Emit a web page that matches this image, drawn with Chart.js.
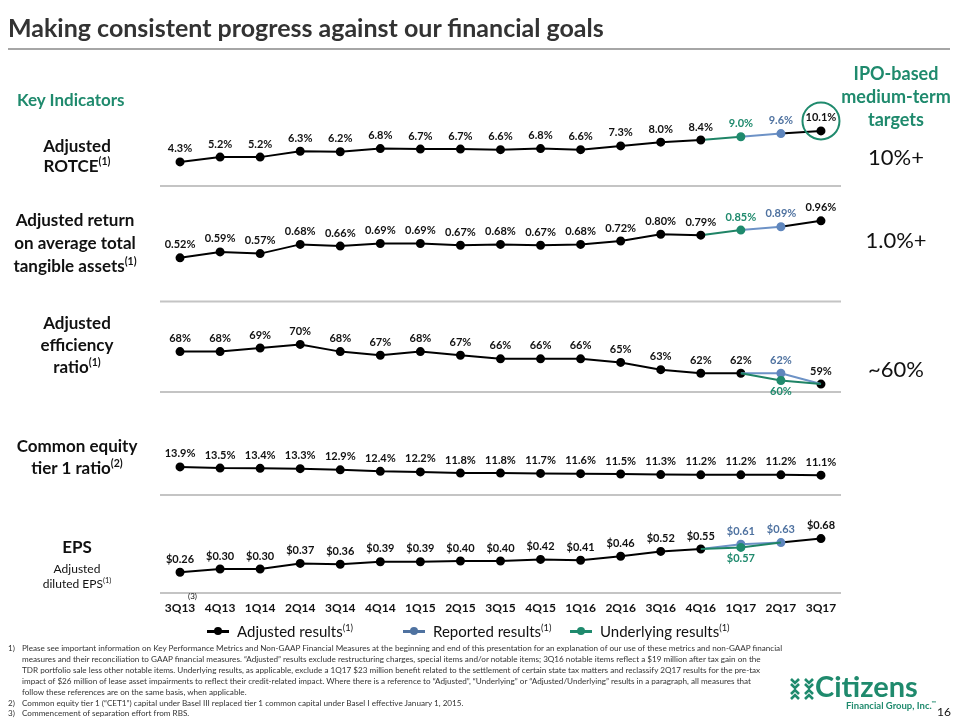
<!DOCTYPE html>
<html>
<head>
<meta charset="utf-8">
<script src="https://cdn.jsdelivr.net/npm/chart.js@4.4.0/dist/chart.umd.min.js"></script>
<style>
  body { margin:0; width:960px; height:720px; position:relative; background:#fff; font-family:Lato, sans-serif; overflow:hidden; color:#111; }
  #chart { position:absolute; left:0; top:0; }
  .abs { position:absolute; white-space:nowrap; }
  .title { left:8px; top:12px; font-size:25px; font-weight:bold; color:#333; }
  .rule { left:8px; top:48px; width:942px; height:2px; background:#a6a6a6; }
  .green { color:#1f8a6d; }
  .rowlabel { left:2px; width:150px; text-align:center; font-weight:bold; font-size:17px; }
  sup { font-size:62%; line-height:0; vertical-align:super; }
  .target { left:836px; width:120px; text-align:center; font-size:22px; font-weight:normal; }
  .legend { top:621px; font-size:15px; line-height:20px; }
  .mark { display:inline-block; position:relative; width:22px; height:20px; vertical-align:top; margin-right:8px; }
  .mark i { position:absolute; left:0; top:9px; width:22px; height:2.5px; }
  .mark b { position:absolute; left:7px; top:6px; width:8px; height:8px; border-radius:50%; }
  .notes { left:8px; top:643px; font-size:8.15px; line-height:10.9px; color:#333; }
  .notes div span { display:inline-block; width:14px; }
  .notes .ind { padding-left:14px; }
</style>
</head>
<body>
<canvas id="chart" width="960" height="720"></canvas>

<div class="abs title">Making consistent progress against our financial goals</div>
<div class="abs rule"></div>

<div class="abs green" style="left:17px; top:89px; font-size:17px; font-weight:bold; line-height:22px;">Key Indicators</div>
<div class="abs rowlabel" style="top:136px; line-height:20px;">Adjusted<br>ROTCE<sup>(1)</sup></div>
<div class="abs rowlabel" style="top:208px; line-height:23px; left:0;">Adjusted return<br>on average total<br>tangible assets<sup>(1)</sup></div>
<div class="abs rowlabel" style="top:312px; line-height:22px;">Adjusted<br>efficiency<br>ratio<sup>(1)</sup></div>
<div class="abs rowlabel" style="top:435px; line-height:22px;">Common equity<br>tier 1 ratio<sup>(2)</sup></div>
<div class="abs rowlabel" style="top:536px; line-height:22px;">EPS
  <div style="font-size:12px; font-weight:normal; line-height:15px; margin-top:3px;">Adjusted<br>diluted EPS<sup>(1)</sup></div></div>

<div class="abs green" style="left:836px; width:120px; text-align:center; top:62px; font-size:18px; font-weight:bold; line-height:23px;">IPO-based<br>medium-term<br>targets</div>
<div class="abs target" style="top:143px;">10%+</div>
<div class="abs target" style="top:226px;">1.0%+</div>
<div class="abs target" style="top:355px;">~60%</div>

<div class="abs" style="left:188px; top:591px; font-size:8px;">(3)</div>

<div class="abs legend" style="left:207px;"><span class="mark"><i style="background:#000"></i><b style="background:#000"></b></span>Adjusted results<sup>(1)</sup></div>
<div class="abs legend" style="left:403px;"><span class="mark"><i style="background:#4f72a0"></i><b style="background:#4f72a0"></b></span>Reported results<sup>(1)</sup></div>
<div class="abs legend" style="left:570px;"><span class="mark"><i style="background:#1f8a6d"></i><b style="background:#1f8a6d"></b></span>Underlying results<sup>(1)</sup></div>

<div class="abs notes">
  <div><span>1)</span>Please see important information on Key Performance Metrics and Non-GAAP Financial Measures at the beginning and end of this presentation for an explanation of our use of these metrics and non-GAAP financial</div>
  <div class="ind">measures and their reconciliation to GAAP financial measures. “Adjusted” results exclude restructuring charges, special items and/or notable items; 3Q16 notable items reflect a $19 million after tax gain on the</div>
  <div class="ind">TDR portfolio sale less other notable items. Underlying results, as applicable, exclude a 1Q17 $23 million benefit related to the settlement of certain state tax matters and reclassify 2Q17 results for the pre-tax</div>
  <div class="ind">impact of $26 million of lease asset impairments to reflect their credit-related impact. Where there is a reference to “Adjusted”, “Underlying” or “Adjusted/Underlying” results in a paragraph, all measures that</div>
  <div class="ind">follow these references are on the same basis, when applicable.</div>
  <div><span>2)</span>Common equity tier 1 (“CET1”) capital under Basel III replaced tier 1 common capital under Basel I effective January 1, 2015.</div>
  <div><span>3)</span>Commencement of separation effort from RBS.</div>
</div>

<svg class="abs" style="left:789px; top:676px;" width="26" height="26" viewBox="0 0 26 26">
  <g fill="none" stroke="#1f8a6d" stroke-width="2.6">
    <polyline points="2,3 6,7 10,3"/><polyline points="2,8 6,12 10,8"/>
    <polyline points="16,3 20,7 24,3"/><polyline points="16,8 20,12 24,8"/>
    <polyline points="2,18 6,14 10,18"/><polyline points="2,23 6,19 10,23"/>
    <polyline points="16,18 20,14 24,18"/><polyline points="16,23 20,19 24,23"/>
  </g>
</svg>
<div class="abs green" style="left:815px; top:669px; font-size:29px; font-weight:bold; line-height:34px;">Citizens</div>
<div class="abs green" style="left:846px; top:700px; font-size:9.5px; font-weight:bold;">Financial Group, Inc.<sup>™</sup></div>
<div class="abs" style="left:937px; top:704px; font-size:12px;">16</div>

<script>
// quarters on the x axis
const quarters = ['3Q13', '4Q13', '1Q14', '2Q14', '3Q14', '4Q14', '1Q15', '2Q15', '3Q15', '4Q15',
                  '1Q16', '2Q16', '3Q16', '4Q16', '1Q17', '2Q17', '3Q17'];

// main line of each row
const rotce = [4.3, 5.2, 5.2, 6.3, 6.2, 6.8, 6.7, 6.7, 6.6, 6.8, 6.6, 7.3, 8.0, 8.4, 9.0, 9.6, 10.1];
const rota = [0.52, 0.59, 0.57, 0.68, 0.66, 0.69, 0.69, 0.67, 0.68, 0.67, 0.68, 0.72, 0.80, 0.79, 0.85, 0.89, 0.96];
const efficiency = [68, 68, 69, 70, 68, 67, 68, 67, 66, 66, 66, 65, 63, 62, 62, null, 59];
const cet1 = [13.9, 13.5, 13.4, 13.3, 12.9, 12.4, 12.2, 11.8, 11.8, 11.7, 11.6, 11.5, 11.3, 11.2, 11.2, 11.2, 11.1];
const eps = [0.26, 0.30, 0.30, 0.37, 0.36, 0.39, 0.39, 0.40, 0.40, 0.42, 0.41, 0.46, 0.52, 0.55, 0.61, 0.63, 0.68];

// result type shown for each quarter of the main line: A adjusted, R reported, U underlying
const rotceType = 'AAAAAAAAAAAAAAURA'.split('');
const rotaType = 'AAAAAAAAAAAAAAURA'.split('');
const efficiencyType = 'AAAAAAAAAAAAAAAAA'.split('');
const cet1Type = 'AAAAAAAAAAAAAAAAA'.split('');
const epsType = 'AAAAAAAAAAAAAARRA'.split('');

// branches that split off the main line
const efficiencyReported = [null, null, null, null, null, null, null, null, null, null, null, null, null, null, 62, 62, 59];
const efficiencyUnderlying = [null, null, null, null, null, null, null, null, null, null, null, null, null, null, 62, 60, 59];
const epsUnderlying = [null, null, null, null, null, null, null, null, null, null, null, null, null, 0.55, 0.57, 0.63, null];

const lineColor = { A: '#000000', R: '#6d92c6', U: '#1f8466' };
const dotColor = { A: '#000000', R: '#5f86bd', U: '#1f8a6d' };
const textColor = { A: '#111111', R: '#4f72a0', U: '#1f8a6d' };

const pct1 = v => v.toFixed(1) + '%';
const pct2 = v => v.toFixed(2) + '%';
const pct0 = v => v.toFixed(0) + '%';
const usd = v => '$' + v.toFixed(2);

function mainSeries(values, types, axis, fmt) {
  return {
    data: values, yAxisID: axis, fmt: fmt,
    borderColor: '#000', borderWidth: 2,
    segment: { borderColor: c => lineColor[types[c.p1DataIndex]] },
    pointRadius: 3.5, pointHoverRadius: 3.5,
    pointBackgroundColor: types.map(t => dotColor[t]),
    pointBorderColor: types.map(t => dotColor[t]),
    labelShow: values.map(() => true),
    labelColor: types.map(t => textColor[t]),
    labelBelow: false
  };
}

function branchSeries(values, main, axis, fmt, kind, below) {
  const own = values.map((v, i) => v != null && v !== main[i]);
  return {
    data: values, yAxisID: axis, fmt: fmt,
    borderColor: lineColor[kind], borderWidth: 2,
    pointRadius: own.map(o => o ? 3.5 : 0), pointHoverRadius: 0,
    pointBackgroundColor: dotColor[kind], pointBorderColor: dotColor[kind],
    labelShow: own,
    labelColor: values.map(() => textColor[kind]),
    labelBelow: below
  };
}

// value labels above (or below) each point
const valueLabels = {
  id: 'valueLabels',
  afterDatasetsDraw(chart) {
    const ctx = chart.ctx;
    ctx.save();
    ctx.font = 'bold 11px Lato';
    ctx.textAlign = 'center';
    ctx.textBaseline = 'middle';
    chart.data.datasets.forEach((ds, di) => {
      chart.getDatasetMeta(di).data.forEach((pt, i) => {
        const v = ds.data[i];
        if (v == null || !ds.labelShow[i]) return;
        ctx.fillStyle = ds.labelColor[i];
        ctx.fillText(ds.fmt(v), pt.x, ds.labelBelow ? pt.y + 11 : pt.y - 13);
      });
    });
    // circle round the latest ROTCE
    const last = chart.getDatasetMeta(0).data[rotce.length - 1];
    ctx.strokeStyle = '#1f8a6d';
    ctx.lineWidth = 2;
    ctx.beginPath();
    ctx.arc(last.x, last.y - 10, 18.5, 0, Math.PI * 2);
    ctx.stroke();
    ctx.restore();
  }
};

// grey rules under each row
const rowRules = {
  id: 'rowRules',
  beforeDatasetsDraw(chart) {
    const ctx = chart.ctx;
    const area = chart.chartArea;
    ctx.save();
    ctx.strokeStyle = '#c4c4c4';
    ctx.lineWidth = 2;
    ['yRotce', 'yRota', 'yEff', 'yCet1', 'yEps'].forEach(id => {
      const y = chart.scales[id].bottom;
      ctx.beginPath();
      ctx.moveTo(area.left, y);
      ctx.lineTo(area.right, y);
      ctx.stroke();
    });
    ctx.restore();
  }
};

function rowAxis(weight, order, min, max) {
  return { type: 'linear', axis: 'y', position: 'left', display: false,
           stack: 'rows', stackWeight: weight, weight: order, min: min, max: max };
}

new Chart(document.getElementById('chart'), {
  type: 'line',
  data: {
    labels: quarters,
    datasets: [
      mainSeries(rotce, rotceType, 'yRotce', pct1),
      mainSeries(rota, rotaType, 'yRota', pct2),
      branchSeries(efficiencyUnderlying, efficiency, 'yEff', pct0, 'U', true),
      branchSeries(efficiencyReported, efficiency, 'yEff', pct0, 'R', false),
      mainSeries(efficiency, efficiencyType, 'yEff', pct0),
      mainSeries(cet1, cet1Type, 'yCet1', pct1),
      branchSeries(epsUnderlying, eps, 'yEps', usd, 'U', true),
      mainSeries(eps, epsType, 'yEps', usd)
    ]
  },
  options: {
    responsive: false,
    animation: false,
    events: [],
    layout: { padding: { left: 160, right: 119, top: 86, bottom: 103 } },
    plugins: { legend: { display: false }, tooltip: { enabled: false } },
    scales: {
      x: {
        type: 'category', offset: true,
        grid: { display: false, drawTicks: false },
        border: { display: false },
        ticks: { padding: 8, color: '#111', autoSkip: false, maxRotation: 0,
                 font: { family: 'Lato', size: 12, weight: 'bold' } },
        afterFit: s => { s.height = 24; }
      },
      yRotce: rowAxis(100, 5, -0.2, 18.5),
      yRota: rowAxis(115.5, 4, 0, 1.375),
      yEff: rowAxis(90.5, 3, 56.8, 81.9),
      yCet1: rowAxis(103, 2, 4.4, 39.2),
      yEps: rowAxis(98, 1, 0, 1.225)
    }
  },
  plugins: [rowRules, valueLabels]
});
</script>
</body>
</html>
